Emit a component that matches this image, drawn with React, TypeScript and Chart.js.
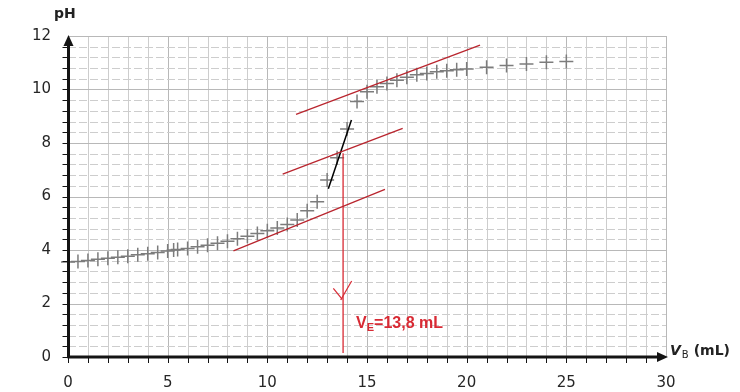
import React, { useEffect, useRef } from 'react';
import { Chart, registerables } from 'chart.js';

Chart.register(...registerables);

// Titration data: volume of base added (mL) and measured pH
const volumes = [0, 0.5, 1, 1.5, 2, 2.5, 3, 3.5, 4, 4.5, 5, 5.3, 5.5, 6, 6.5, 7, 7.5, 8, 8.5, 9, 9.5, 10, 10.5, 11, 11.5, 12, 12.5, 13, 13.5, 14, 14.5, 15, 15.5, 16, 16.5, 17, 17.5, 18, 18.5, 19, 19.5, 20, 21, 22, 23, 24, 25];
const phValues = [3.55, 3.57, 3.61, 3.65, 3.69, 3.73, 3.77, 3.82, 3.86, 3.91, 3.96, 4.0, 4.02, 4.06, 4.12, 4.18, 4.25, 4.33, 4.42, 4.51, 4.62, 4.72, 4.82, 4.95, 5.12, 5.47, 5.8, 6.62, 7.45, 8.52, 9.55, 9.92, 10.1, 10.22, 10.35, 10.46, 10.55, 10.6, 10.66, 10.7, 10.74, 10.77, 10.83, 10.9, 10.95, 11.02, 11.05];

// Parallel tangent construction (two points each: [start, end])
const lowTangentV = [8.3, 15.9];
const lowTangentPH = [3.97, 6.27];
const midLineV = [10.77, 16.79];
const midLinePH = [6.84, 8.55];
const highTangentV = [11.44, 20.67];
const highTangentPH = [9.07, 11.66];
const steepLineV = [13.06, 14.22];
const steepLinePH = [6.29, 8.86];

// Equivalence volume projection
const equivalenceVolume = 13.8;
const projectionPH = [7.62, 0.15];
const arrowArmLeftV = [13.31, 13.76];
const arrowArmLeftPH = [2.57, 2.15];
const arrowArmRightV = [14.23, 13.68];
const arrowArmRightPH = [2.84, 2.13];
const equivalenceLabelV = 14.45;
const equivalenceLabelPH = 1.08;
const equivalenceText = '=13,8 mL';

// Axes
const xMin = 0;
const xMax = 30;
const yMin = 0;
const yMax = 12;
const xMajorStep = 5;
const xMinorStep = 1;
const yMajorStep = 2;
const yMinorStep = 0.4;

const RED_LINE = '#b9252e';
const RED_TEXT = '#d82a34';

function toPoints(xs: number[], ys: number[]) {
  return xs.map((v, i) => ({ x: v, y: ys[i] }));
}

const gridPlugin = {
  id: 'customGrid',
  beforeDatasetsDraw(chart: any) {
    const { ctx, chartArea: a, scales } = chart;
    const x = scales.x;
    const y = scales.y;
    ctx.save();
    ctx.lineWidth = 1;
    const nx = Math.round((xMax - xMin) / xMinorStep);
    for (let k = 0; k <= nx; k++) {
      const v = xMin + k * xMinorStep;
      const px = Math.round(x.getPixelForValue(v)) + 0.5;
      const major = k % Math.round(xMajorStep / xMinorStep) === 0;
      ctx.strokeStyle = major ? '#b8b8b8' : '#cdcdcd';
      ctx.setLineDash([]);
      ctx.beginPath();
      ctx.moveTo(px, a.top);
      ctx.lineTo(px, a.bottom);
      ctx.stroke();
    }
    const ny = Math.round((yMax - yMin) / yMinorStep);
    for (let k = 0; k <= ny; k++) {
      const v = yMin + k * yMinorStep;
      const py = Math.round(y.getPixelForValue(v)) + 0.5;
      const major = k % Math.round(yMajorStep / yMinorStep) === 0;
      ctx.strokeStyle = major ? '#b8b8b8' : '#cdcdcd';
      ctx.setLineDash(major ? [] : [8, 3]);
      ctx.beginPath();
      ctx.moveTo(a.left, py);
      ctx.lineTo(a.right, py);
      ctx.stroke();
    }
    ctx.restore();
  },
};

const axesPlugin = {
  id: 'customAxes',
  afterDatasetsDraw(chart: any) {
    const { ctx, scales } = chart;
    const x = scales.x;
    const y = scales.y;
    const x0 = x.getPixelForValue(xMin) + 0.5;
    const y0 = y.getPixelForValue(yMin);
    const xEnd = x.getPixelForValue(xMax);
    const yEnd = y.getPixelForValue(yMax);
    ctx.save();
    ctx.strokeStyle = '#141414';
    ctx.fillStyle = '#141414';
    ctx.lineWidth = 1;
    const nx = Math.round((xMax - xMin) / xMinorStep);
    for (let k = 0; k < nx; k++) {
      const px = Math.round(x.getPixelForValue(xMin + k * xMinorStep)) + 0.5;
      ctx.beginPath();
      ctx.moveTo(px, y0);
      ctx.lineTo(px, y0 + 6);
      ctx.stroke();
    }
    const ny = Math.round((yMax - yMin) / yMinorStep);
    for (let k = 0; k < ny; k++) {
      const py = Math.round(y.getPixelForValue(yMin + k * yMinorStep)) + 0.5;
      ctx.beginPath();
      ctx.moveTo(x0 - 6, py);
      ctx.lineTo(x0, py);
      ctx.stroke();
    }
    ctx.lineWidth = 3;
    ctx.beginPath();
    ctx.moveTo(x0, y0 + 1);
    ctx.lineTo(x0, yEnd + 6);
    ctx.stroke();
    ctx.beginPath();
    ctx.moveTo(x0 - 1, y0);
    ctx.lineTo(xEnd - 6, y0);
    ctx.stroke();
    ctx.beginPath();
    ctx.moveTo(x0, yEnd - 1);
    ctx.lineTo(x0 - 5, yEnd + 10);
    ctx.lineTo(x0 + 5, yEnd + 10);
    ctx.closePath();
    ctx.fill();
    ctx.beginPath();
    ctx.moveTo(xEnd + 2, y0);
    ctx.lineTo(xEnd - 9, y0 - 5);
    ctx.lineTo(xEnd - 9, y0 + 5);
    ctx.closePath();
    ctx.fill();
    ctx.restore();
  },
  afterDraw(chart: any) {
    const { ctx, scales } = chart;
    const x = scales.x;
    const y = scales.y;
    ctx.save();
    ctx.textBaseline = 'alphabetic';
    ctx.textAlign = 'left';
    ctx.fillStyle = '#222222';
    ctx.font = 'bold 14px "DejaVu Sans"';
    ctx.fillText('pH', 54, 18);
    let tx = 670;
    const by = 355;
    ctx.font = 'italic bold 14px "DejaVu Sans"';
    ctx.fillText('V', tx, by);
    tx += ctx.measureText('V').width + 1;
    ctx.font = '10px "DejaVu Sans"';
    ctx.fillText('B', tx, by + 3);
    tx += ctx.measureText('B').width + 5;
    ctx.font = 'bold 14px "DejaVu Sans"';
    ctx.fillText('(mL)', tx, by);
    ctx.fillStyle = RED_TEXT;
    let lx = x.getPixelForValue(equivalenceLabelV);
    const ly = y.getPixelForValue(equivalenceLabelPH);
    ctx.font = 'bold 16px "Liberation Sans", Arial, sans-serif';
    ctx.fillText('V', lx, ly);
    lx += ctx.measureText('V').width;
    ctx.font = 'bold 11px "Liberation Sans", Arial, sans-serif';
    ctx.fillText('E', lx, ly + 3);
    lx += ctx.measureText('E').width;
    ctx.font = 'bold 16px "Liberation Sans", Arial, sans-serif';
    ctx.fillText(equivalenceText, lx, ly);
    ctx.restore();
  },
};

function lineDataset(xs: number[], ys: number[], color: string, width: number) {
  return {
    type: 'line' as const,
    data: toPoints(xs, ys),
    borderColor: color,
    borderWidth: width,
    pointRadius: 0,
    fill: false,
    tension: 0,
    clip: false as any,
  };
}

export default function App() {
  const canvasRef = useRef<HTMLCanvasElement | null>(null);

  useEffect(() => {
    const canvas = canvasRef.current;
    if (!canvas) return;
    const chart = new Chart(canvas, {
      type: 'scatter',
      data: {
        datasets: [
          {
            type: 'scatter',
            data: toPoints(volumes, phValues),
            pointStyle: 'cross',
            pointRadius: 7,
            pointBorderWidth: 1.5,
            borderColor: '#7c7c7c',
            backgroundColor: '#7c7c7c',
            showLine: false,
            clip: false as any,
            order: 2,
          } as any,
          lineDataset(lowTangentV, lowTangentPH, RED_LINE, 1.3),
          lineDataset(midLineV, midLinePH, RED_LINE, 1.3),
          lineDataset(highTangentV, highTangentPH, RED_LINE, 1.3),
          lineDataset(steepLineV, steepLinePH, '#000000', 1.5),
          lineDataset([equivalenceVolume, equivalenceVolume], projectionPH, RED_TEXT, 1.3),
          lineDataset(arrowArmLeftV, arrowArmLeftPH, RED_TEXT, 1.2),
          lineDataset(arrowArmRightV, arrowArmRightPH, RED_TEXT, 1.2),
        ] as any,
      },
      options: {
        responsive: false,
        animation: false,
        devicePixelRatio: 1,
        layout: { padding: { top: 36, right: 74, left: 0, bottom: 0 } },
        plugins: {
          legend: { display: false },
          tooltip: { enabled: false },
        },
        scales: {
          x: {
            type: 'linear',
            min: xMin,
            max: xMax,
            grid: { display: false, drawTicks: false },
            border: { display: false },
            ticks: {
              stepSize: xMajorStep,
              autoSkip: false,
              maxRotation: 0,
              padding: 17,
              color: '#262626',
              font: { family: '"DejaVu Sans"', size: 15 },
            },
            afterFit: (scale: any) => {
              scale.height = 35;
            },
          },
          y: {
            type: 'linear',
            min: yMin,
            max: yMax,
            grid: { display: false, drawTicks: false },
            border: { display: false },
            ticks: {
              stepSize: yMajorStep,
              padding: 17,
              color: '#262626',
              font: { family: '"DejaVu Sans"', size: 15 },
            },
            afterFit: (scale: any) => {
              scale.width = 68;
            },
          },
        },
      } as any,
      plugins: [gridPlugin, axesPlugin],
    });
    return () => chart.destroy();
  }, []);

  return (
    <div style={{ position: 'absolute', left: 0, top: 0, width: 740, height: 392, background: '#ffffff' }}>
      <canvas ref={canvasRef} width={740} height={392} style={{ display: 'block' }} />
    </div>
  );
}
